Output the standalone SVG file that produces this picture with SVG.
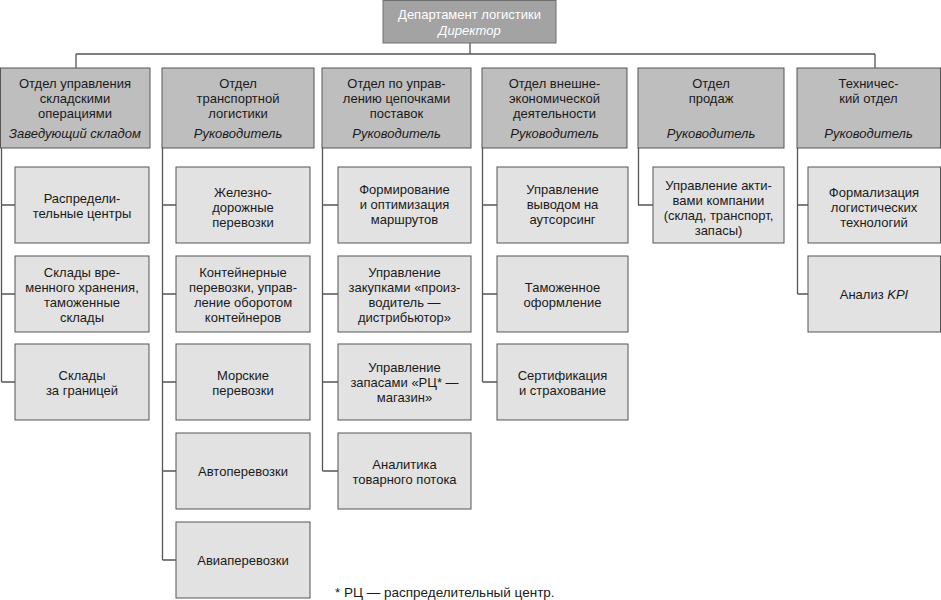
<svg xmlns="http://www.w3.org/2000/svg" width="941" height="600" viewBox="0 0 941 600">
<style>
text{font-family:"Liberation Sans",Arial,sans-serif;font-size:13px;fill:#1a1a1a;text-anchor:middle}
.top{fill:#a3a3a3;stroke:#6e6e6e;stroke-width:1}
.hd{fill:#bebebe;stroke:#555;stroke-width:1}
.ch{fill:#e2e2e2;stroke:#555;stroke-width:1}
.w{fill:#fff}
.i{font-style:italic}
.ln{fill:none;stroke:#555;stroke-width:1.3}
</style>
<rect width="941" height="600" fill="#fff"/>
<g id="connectors">
<path class="ln" d="M470,43V54M76,54H875M76,54V68M875,54V68"/>
<path class="ln" d="M1.5,148V382M1.5,205H15M1.5,294H15M1.5,382H15"/>
<path class="ln" d="M162.5,148V560M162.5,205H176M162.5,294H176M162.5,382H176M162.5,471H176M162.5,560H176"/>
<path class="ln" d="M322.5,148V471M322.5,205H338M322.5,294H338M322.5,382H338M322.5,471H338"/>
<path class="ln" d="M482.5,148V382M482.5,205H497M482.5,294H497M482.5,382H497"/>
<path class="ln" d="M638.5,148V205H653"/>
<path class="ln" d="M797.5,148V294M797.5,205H808M797.5,294H808"/>
</g>
<g id="director"><rect class="top" x="383" y="0.5" width="173" height="42.5"/>
<text class="w" x="469.5" y="19">Департамент логистики</text><text class="w i" x="469.5" y="35">Директор</text></g>
<g id="h1"><rect class="hd" x="0.5" y="68" width="149.5" height="80"/>
<text x="75" y="88">Отдел управления</text><text x="75" y="103">складскими</text><text x="75" y="118">операциями</text><text class="i" x="75" y="138">Заведующий складом</text></g>
<g id="h2"><rect class="hd" x="162" y="68" width="152" height="80"/>
<text x="238" y="88">Отдел</text><text x="238" y="103">транспортной</text><text x="238" y="118">логистики</text><text class="i" x="238" y="138">Руководитель</text></g>
<g id="h3"><rect class="hd" x="322" y="68" width="149" height="80"/>
<text x="396.5" y="88">Отдел по управ-</text><text x="396.5" y="103">лению цепочками</text><text x="396.5" y="118">поставок</text><text class="i" x="396.5" y="138">Руководитель</text></g>
<g id="h4"><rect class="hd" x="482" y="68" width="145" height="80"/>
<text x="554.5" y="88">Отдел внешне-</text><text x="554.5" y="103">экономической</text><text x="554.5" y="118">деятельности</text><text class="i" x="554.5" y="138">Руководитель</text></g>
<g id="h5"><rect class="hd" x="638" y="68" width="146" height="80"/>
<text x="711" y="88">Отдел</text><text x="711" y="103">продаж</text><text class="i" x="711" y="138">Руководитель</text></g>
<g id="h6"><rect class="hd" x="797" y="68" width="143.5" height="80"/>
<text x="868.5" y="88">Техничес-</text><text x="868.5" y="103">кий отдел</text><text class="i" x="868.5" y="138">Руководитель</text></g>

<g id="c1a"><rect class="ch" x="15" y="167" width="134" height="76"/><text x="82" y="203">Распредели-</text><text x="82" y="218">тельные центры</text></g>
<g id="c1b"><rect class="ch" x="15" y="256" width="134" height="76"/><text x="82" y="277">Склады вре-</text><text x="82" y="292">менного хранения,</text><text x="82" y="307">таможенные</text><text x="82" y="322">склады</text></g>
<g id="c1c"><rect class="ch" x="15" y="344" width="134" height="76"/><text x="82" y="380">Склады</text><text x="82" y="395">за границей</text></g>

<g id="c2a"><rect class="ch" x="176" y="167" width="134" height="76"/><text x="243" y="197">Железно-</text><text x="243" y="212">дорожные</text><text x="243" y="227">перевозки</text></g>
<g id="c2b"><rect class="ch" x="176" y="256" width="134" height="76"/><text x="243" y="277">Контейнерные</text><text x="243" y="292">перевозки, управ-</text><text x="243" y="307">ление оборотом</text><text x="243" y="322">контейнеров</text></g>
<g id="c2c"><rect class="ch" x="176" y="344" width="134" height="76"/><text x="243" y="380">Морские</text><text x="243" y="395">перевозки</text></g>
<g id="c2d"><rect class="ch" x="176" y="433" width="134" height="76"/><text x="243" y="476">Автоперевозки</text></g>
<g id="c2e"><rect class="ch" x="176" y="522" width="134" height="76"/><text x="243" y="565">Авиаперевозки</text></g>

<g id="c3a"><rect class="ch" x="338" y="167" width="133" height="76"/><text x="404.5" y="194">Формирование</text><text x="404.5" y="209">и оптимизация</text><text x="404.5" y="224">маршрутов</text></g>
<g id="c3b"><rect class="ch" x="338" y="256" width="133" height="76"/><text x="404.5" y="277">Управление</text><text x="404.5" y="292">закупками «произ-</text><text x="404.5" y="307">водитель —</text><text x="404.5" y="322">дистрибьютор»</text></g>
<g id="c3c"><rect class="ch" x="338" y="344" width="133" height="76"/><text x="404.5" y="372">Управление</text><text x="404.5" y="387">запасами «РЦ* —</text><text x="404.5" y="402">магазин»</text></g>
<g id="c3d"><rect class="ch" x="338" y="433" width="133" height="76"/><text x="404.5" y="469">Аналитика</text><text x="404.5" y="484">товарного потока</text></g>

<g id="c4a"><rect class="ch" x="497" y="167" width="131" height="76"/><text x="562.5" y="194">Управление</text><text x="562.5" y="209">выводом на</text><text x="562.5" y="224">аутсорсинг</text></g>
<g id="c4b"><rect class="ch" x="497" y="256" width="131" height="76"/><text x="562.5" y="292">Таможенное</text><text x="562.5" y="307">оформление</text></g>
<g id="c4c"><rect class="ch" x="497" y="344" width="131" height="76"/><text x="562.5" y="380">Сертификация</text><text x="562.5" y="395">и страхование</text></g>

<g id="c5a"><rect class="ch" x="653" y="167" width="131" height="76"/><text x="718.5" y="190">Управление акти-</text><text x="718.5" y="205">вами компании</text><text x="718.5" y="220">(склад, транспорт,</text><text x="718.5" y="235">запасы)</text></g>

<g id="c6a"><rect class="ch" x="808" y="167" width="132.5" height="76"/><text x="874" y="197">Формализация</text><text x="874" y="212">логистических</text><text x="874" y="227">технологий</text></g>
<g id="c6b"><rect class="ch" x="808" y="256" width="132.5" height="76"/><text x="874" y="299">Анализ <tspan class="i">KPI</tspan></text></g>

<text x="335" y="597" style="text-anchor:start;font-size:13.5px">* РЦ — распределительный центр.</text>
</svg>
